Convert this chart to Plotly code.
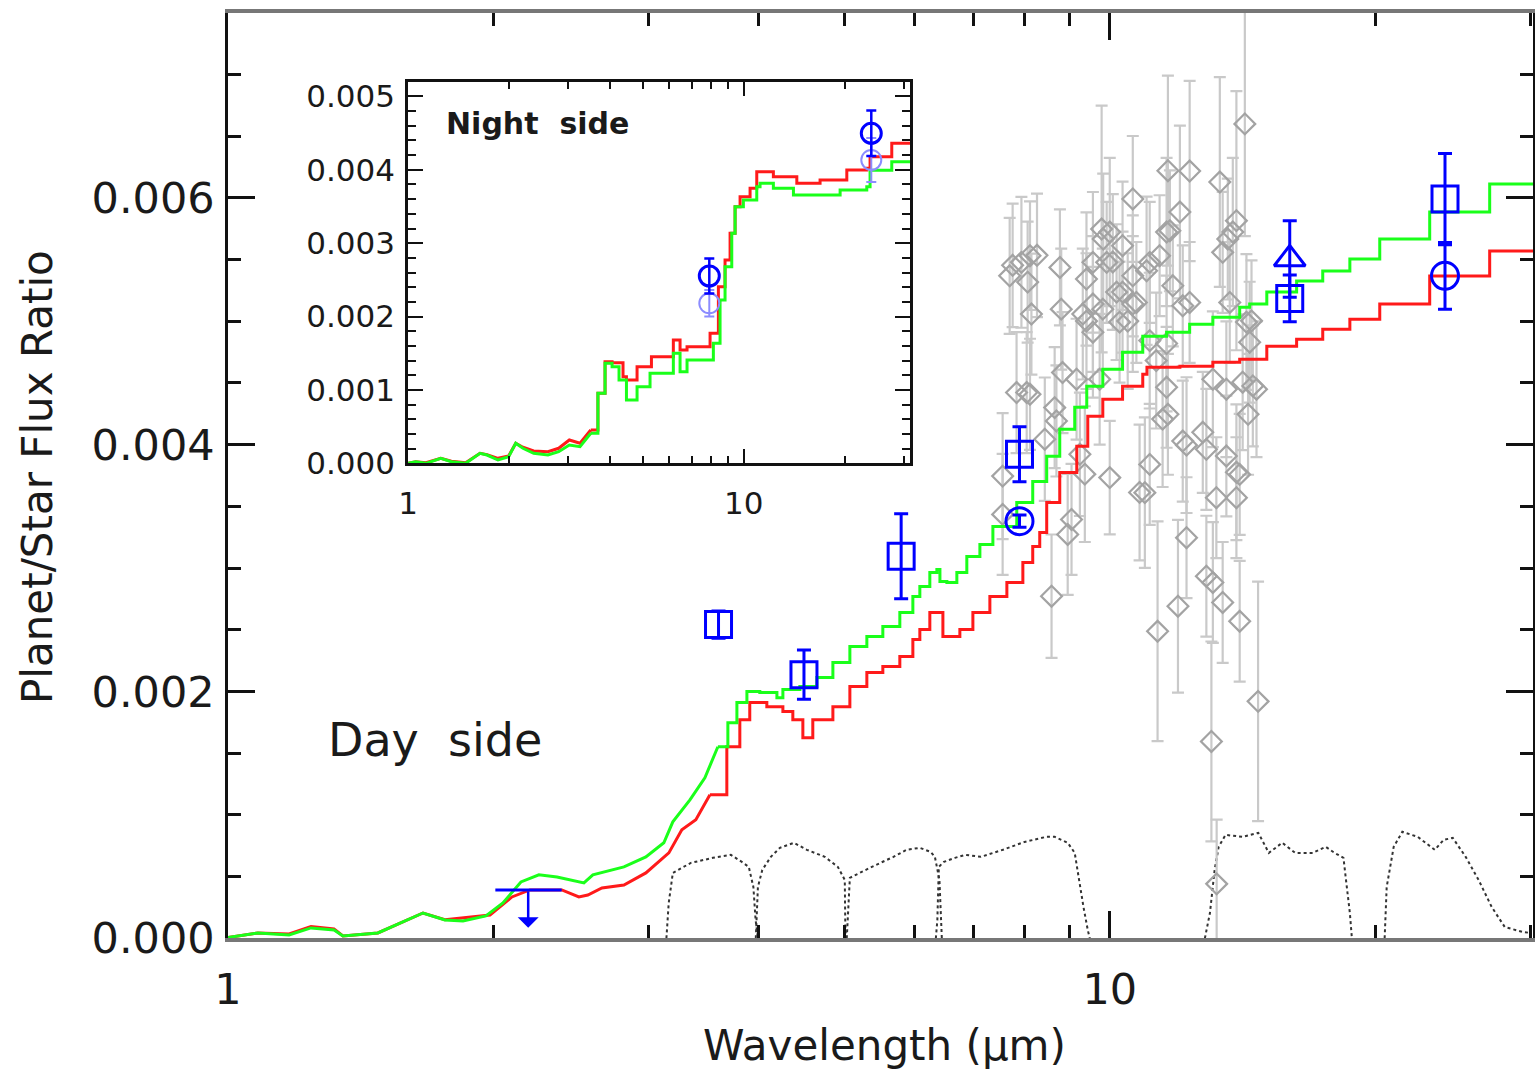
import math
import numpy as np
import plotly.graph_objects as go

# ---------------- DATA (flux ratios in units of 1e-3) ----------------
# Day side model spectra (main panel)
green_day_wl = [1.000,1.081,1.173,1.242,1.319,1.350,1.479,1.571,1.664,1.762,1.847,1.961,2.050,2.149,2.252,2.361,2.442,2.533,2.593,2.812,2.978,3.121,3.195,3.341,3.474,3.594,
                3.689,3.777,3.877,4.010,4.193,4.259,4.452,4.654,4.853,5.073,5.303,5.529,5.780,5.980,6.090,6.251,6.367,6.418,6.536,6.708,6.885,7.124,7.370,7.844,8.178,8.482,8.776,9.126,9.417,9.820,
                10.34,10.90,11.60,12.32,13.09,14.04,14.41,15.07,16.29,17.44,18.72,20.24,23.06,26.97,30.3]
green_day_e3 = [0.007,0.043,0.027,0.084,0.067,0.019,0.043,0.124,0.205,0.148,0.140,0.181,0.286,0.457,0.514,0.497,0.473,0.449,0.514,0.579,0.660,0.774,0.944,1.122,1.301,1.552,
                1.747,1.910,1.999,1.991,1.950,2.015,2.040,2.113,2.234,2.364,2.445,2.526,2.640,2.770,2.851,2.964,2.989,2.891,2.883,2.964,3.094,3.191,3.337,3.532,3.702,3.905,4.124,4.303,4.473,4.611,
                4.749,4.879,4.911,4.976,5.033,5.114,5.139,5.236,5.326,5.407,5.504,5.666,5.885,6.112,6.112]
red_day_wl = [1.000,1.081,1.173,1.242,1.319,1.350,1.479,1.571,1.664,1.762,1.871,1.982,2.099,2.200,2.391,2.500,2.559,2.655,2.812,2.978,3.162,3.271,3.393,3.520,
              3.679,3.806,3.906,4.084,4.259,4.371,4.487,4.605,4.853,5.073,5.303,5.529,5.780,5.980,6.090,6.251,6.367,6.468,6.761,6.995,7.312,7.644,7.970,8.178,8.329,8.482,
              8.776,9.175,9.442,9.820,10.34,10.90,11.02,12.01,13.09,14.04,15.07,16.29,17.44,18.72,20.24,23.06,26.97,30.3]
red_day_e3 = [0.007,0.043,0.035,0.095,0.075,0.019,0.043,0.124,0.205,0.150,0.173,0.189,0.335,0.392,0.392,0.335,0.351,0.408,0.432,0.530,0.692,0.879,0.960,1.163,
              1.552,1.771,1.910,1.877,1.837,1.771,1.625,1.771,1.877,2.040,2.153,2.202,2.283,2.421,2.502,2.640,2.640,2.445,2.502,2.640,2.770,2.883,3.045,3.175,3.289,3.532,
              3.775,3.986,4.230,4.368,4.473,4.570,4.627,4.635,4.668,4.692,4.798,4.855,4.936,5.017,5.139,5.366,5.569,5.569]

# Night side model spectra (inset)
green_night_wl = [1.0,1.054,1.131,1.252,1.347,1.485,1.639,1.719,1.854,1.994,2.094,2.200,2.368,2.611,2.811,3.024,3.254,3.503,3.680,3.864,
                  4.055,4.253,4.475,4.813,5.261,6.036,6.173,6.464,6.781,7.762,8.123,8.505,8.801,9.216,9.428,9.980,10.94,11.19,12.26,14.07,
                  16.89,19.38,23.27,23.80,27.31,27.62,31.3]
green_night_e3 = [0.002,0.023,0.001,0.069,0.023,0.001,0.138,0.114,0.046,0.091,0.274,0.206,0.138,0.114,0.159,0.251,0.228,0.410,0.955,1.364,
                  1.317,1.136,0.864,1.045,1.228,1.228,1.500,1.249,1.409,1.409,1.636,2.226,2.680,3.135,3.497,3.589,3.770,3.816,3.748,3.657,
                  3.657,3.725,3.770,3.995,3.995,4.110,4.110]
red_night_wl = [1.0,1.054,1.131,1.252,1.347,1.485,1.639,1.719,1.854,1.994,2.094,2.200,2.368,2.611,2.811,3.024,3.254,3.503,3.680,3.864,
                4.055,4.371,4.475,4.813,5.312,5.861,6.173,6.464,6.781,7.585,7.942,8.408,8.801,9.110,9.428,9.757,10.45,10.94,12.26,14.40,
                16.89,20.29,23.27,23.80,26.99,27.62,31.3]
red_night_e3 = [0.002,0.023,0.010,0.069,0.030,0.010,0.138,0.120,0.069,0.100,0.274,0.220,0.170,0.160,0.206,0.319,0.274,0.455,0.955,1.386,
                1.372,1.181,1.136,1.317,1.454,1.454,1.681,1.545,1.590,1.590,1.772,2.407,2.771,3.135,3.497,3.634,3.748,3.974,3.906,3.816,
                3.861,3.997,4.020,4.178,4.178,4.361,4.361]

# Spitzer filter transmission curves (scaled, dotted)
filt1_wl = [3.142,3.161,3.195,3.349,3.548,3.718,3.826,3.896,3.943,3.966,3.990]
filt1_e3 = [0,0.286,0.530,0.611,0.652,0.676,0.619,0.579,0.416,0.148,0]
filt2_wl = [3.968,3.990,4.036,4.127,4.226,4.383,4.534,4.752,4.916,5.006,5.012,5.02]
filt2_e3 = [0,0.416,0.554,0.660,0.733,0.774,0.717,0.660,0.579,0.473,0.148,0]
filt3_wl = [5.032,5.045,5.073,5.373,5.684,5.884,6.090,6.265,6.334,6.410,6.445,6.45]
filt3_e3 = [0,0.148,0.490,0.579,0.660,0.717,0.733,0.700,0.660,0.473,0.148,0]
filt4_wl = [6.350,6.375,6.400,6.484,6.674,6.864,7.142,7.565,8.005,8.473,8.661,8.961,9.126,9.223,9.337,9.442,9.491]
filt4_e3 = [0,0.148,0.579,0.619,0.652,0.676,0.660,0.717,0.781,0.822,0.822,0.774,0.692,0.473,0.254,0.067,0]
filt5_wl = [12.82,12.99,13.15,13.29,13.53,14.15,14.74,15.15,15.69,16.23,16.99,17.58,17.99,18.41,18.52,18.72,18.82]
filt5_e3 = [0,0.205,0.554,0.741,0.838,0.822,0.854,0.692,0.774,0.692,0.692,0.741,0.692,0.652,0.490,0.205,0]
filt6_wl = [20.50,20.61,20.99,21.47,22.35,23.37,23.92,24.49,25.33,26.20,27.11,28.05,29.40,30.05]
filt6_e3 = [0,0.416,0.741,0.863,0.822,0.717,0.798,0.814,0.660,0.473,0.254,0.092,0.051,0.043]

# IRS spectrum points (gray diamonds)
irs_wl = [7.56,7.56,7.70,7.84,7.94,8.05,8.07,8.12,8.12,8.15,
          8.59,8.66,8.70,8.78,8.81,8.84,8.96,9.05,9.17,9.32,
          9.37,9.41,9.57,9.57,9.74,9.79,9.83,9.82,9.92,10.0,
          10.26,10.34,10.34,10.62,10.62,10.72,10.96,11.10,11.10,11.33,
          11.39,11.60,11.64,11.64,11.70,11.79,11.95,12.01,12.10,12.10,
          12.22,12.32,12.32,12.75,12.87,12.87,13.04,13.09,13.21,13.22,
          13.33,13.43,13.43,13.56,13.61,13.68,13.92,13.92,14.04,14.04,
          14.23,14.35,14.41,14.48,14.53,14.73,
          10.0,10.08,10.18,11.01,10.62,10.48,9.57,9.41,11.60,11.10,
          11.60,11.29,13.79,14.29,13.09,13.56,14.15,14.67,12.22,11.48,
          13.92,10.81,7.76,8.27,9.25,8.44]
irs_e3 = [3.745,3.435,5.368,4.422,5.477,4.422,5.317,5.531,4.408,5.058,
          2.772,4.300,4.192,5.436,5.098,4.584,3.272,3.394,4.530,5.058,
          3.761,5.342,5.477,4.911,4.530,5.747,5.666,5.098,5.477,3.733,
          4.993,5.612,5.236,5.991,5.368,5.152,3.611,5.477,3.840,2.488,
          5.531,4.465,6.220,4.246,5.733,5.287,2.691,5.885,5.125,4.029,
          3.246,6.217,5.152,4.100,3.962,2.934,1.595,2.883,3.570,0.441,
          6.128,5.558,2.721,3.908,5.666,5.152,5.815,3.570,3.759,2.569,
          6.599,4.246,4.830,5.003,4.476,1.920,
          5.723,5.480,5.236,5.409,5.139,5.001,5.139,5.001,5.723,4.843,
          4.819,4.681,5.723,4.993,4.530,4.449,4.506,4.449,3.996,4.207,
          3.776,3.613,5.453,5.534,3.922,4.044]
irs_err_e3 = [0.51,0.49,0.47,0.49,0.53,0.49,0.49,0.44,0.45,0.49,
              0.50,0.49,0.45,0.47,0.49,0.49,0.49,0.45,0.49,0.53,
              0.55,0.54,0.57,0.53,0.53,1.0,0.53,0.49,0.49,0.46,
              0.49,0.52,0.49,0.51,0.49,0.49,0.61,0.49,0.49,0.89,
              0.49,0.49,0.77,0.49,0.49,0.49,0.70,0.70,0.49,0.49,
              0.49,0.73,0.49,0.49,0.49,0.49,0.81,0.49,0.49,0.52,
              0.85,0.49,0.49,0.49,0.49,0.49,1.05,0.49,0.49,0.49,
              0.91,0.49,0.49,0.49,0.49,0.97,
              0.60,0.55,0.55,0.60,0.55,0.55,0.55,0.55,0.60,0.55,
              0.55,0.55,0.60,0.55,0.55,0.55,0.55,0.55,0.55,0.55,
              0.55,0.55,0.50,0.50,0.50,0.50]

# Day side photometry (blue)
sq_wl = [3.6, 4.5, 5.8, 7.9, 16.0, 24.0]
sq_e3 = [2.542, 2.136, 3.096, 3.922, 5.185, 5.990]
sq_err_e3 = [0.11, 0.20, 0.345, 0.223, 0.19, 0.37]
circ_wl = [7.9, 24.0]
circ_e3 = [3.380, 5.368]
circ_err_e3 = [0.05, 0.27]
tri_wl = [16.0]
tri_e3 = [5.504]
tri_err_e3 = [0.31]
ulim_wl = 2.19
ulim_e3 = 0.392
ulim_lo_wl = 2.01
ulim_hi_wl = 2.39
ulim_arrow_tip_e3 = 0.085

# Night side photometry (inset)
night_wl = [7.9, 24.0]
night_e3 = [2.553, 4.497]
night_err_e3 = [0.24, 0.31]
night_alt_e3 = [2.181, 4.134]
night_alt_err_e3 = [0.18, 0.30]

# ticks
main_ytick_vals = [0, 0.002, 0.004, 0.006]
main_ytick_text = ["0.000", "0.002", "0.004", "0.006"]
inset_ytick_vals = [0, 0.001, 0.002, 0.003, 0.004, 0.005]
inset_ytick_text = ["0.000", "0.001", "0.002", "0.003", "0.004", "0.005"]
xtick_vals = [1, 10]
xtick_text = ["1", "10"]
xminor_vals = [2, 3, 4, 5, 6, 7, 8, 9, 20, 30]

# ---------------- FIGURE ----------------
E = 1e-3
FONT = "DejaVu Sans"
TXT = "#1a1a1a"
BLUE = "#0000ff"
RED = "#ff1a1a"
GREEN = "#1aff1a"

fig = go.Figure()

def split_model(wl, fr, cut=3.5):
    wl = np.asarray(wl, float); fr = np.asarray(fr, float) * E
    k = int(np.argmax(wl > cut))
    return (wl[:k + 1], fr[:k + 1]), (wl[k:], fr[k:])

# filters
fw, fr = [], []
for w, r in [(filt1_wl, filt1_e3), (filt2_wl, filt2_e3), (filt3_wl, filt3_e3),
             (filt4_wl, filt4_e3), (filt5_wl, filt5_e3), (filt6_wl, filt6_e3)]:
    fw += list(w) + [None]
    fr += [v * E for v in r] + [None]
fig.add_trace(go.Scatter(x=fw, y=fr, mode="lines", line=dict(color="#333333", width=2, dash="dot"),
                         xaxis="x", yaxis="y", hoverinfo="skip"))

# IRS gray diamonds
fig.add_trace(go.Scatter(x=irs_wl, y=np.array(irs_e3) * E, mode="markers",
                         marker=dict(symbol="diamond-open", size=16, color="#a3a3a3", line=dict(width=2.2, color="#a3a3a3")),
                         error_y=dict(type="data", array=np.array(irs_err_e3) * E, color="#c9c9c9", thickness=2.2, width=6),
                         xaxis="x", yaxis="y"))

# day side models
for wl, frr, col in [(red_day_wl, red_day_e3, RED), (green_day_wl, green_day_e3, GREEN)]:
    (lw, lf), (hw, hf) = split_model(wl, frr)
    fig.add_trace(go.Scatter(x=lw, y=lf, mode="lines", line=dict(color=col, width=3), xaxis="x", yaxis="y"))
    fig.add_trace(go.Scatter(x=hw, y=hf, mode="lines", line=dict(color=col, width=3, shape="hv"), xaxis="x", yaxis="y"))

# day side photometry
fig.add_trace(go.Scatter(x=sq_wl, y=np.array(sq_e3) * E, mode="markers",
                         marker=dict(symbol="square-open", size=26, color=BLUE, line=dict(width=3, color=BLUE)),
                         error_y=dict(type="data", array=np.array(sq_err_e3) * E, color=BLUE, thickness=3, width=7),
                         xaxis="x", yaxis="y"))
fig.add_trace(go.Scatter(x=circ_wl, y=np.array(circ_e3) * E, mode="markers",
                         marker=dict(symbol="circle-open", size=27, color=BLUE, line=dict(width=3, color=BLUE)),
                         error_y=dict(type="data", array=np.array(circ_err_e3) * E, color=BLUE, thickness=3, width=7),
                         xaxis="x", yaxis="y"))
fig.add_trace(go.Scatter(x=tri_wl, y=np.array(tri_e3) * E, mode="markers",
                         marker=dict(symbol="triangle-up-open", size=27, color=BLUE, line=dict(width=3, color=BLUE)),
                         error_y=dict(type="data", array=np.array(tri_err_e3) * E, color=BLUE, thickness=3, width=7),
                         xaxis="x", yaxis="y"))
# upper limit bar
fig.add_trace(go.Scatter(x=[ulim_wl], y=[ulim_e3 * E], mode="markers", marker=dict(size=1, color=BLUE),
                         error_x=dict(type="data", symmetric=False, array=[ulim_hi_wl - ulim_wl],
                                      arrayminus=[ulim_wl - ulim_lo_wl], color=BLUE, thickness=3, width=0),
                         xaxis="x", yaxis="y"))

# night side models
for wl, frr, col in [(red_night_wl, red_night_e3, RED), (green_night_wl, green_night_e3, GREEN)]:
    (lw, lf), (hw, hf) = split_model(wl, frr)
    fig.add_trace(go.Scatter(x=lw, y=lf, mode="lines", line=dict(color=col, width=3), xaxis="x2", yaxis="y2"))
    fig.add_trace(go.Scatter(x=hw, y=hf, mode="lines", line=dict(color=col, width=3, shape="hv"), xaxis="x2", yaxis="y2"))

fig.add_trace(go.Scatter(x=night_wl, y=np.array(night_alt_e3) * E, mode="markers",
                         marker=dict(symbol="circle-open", size=20, color="#8c8cff", line=dict(width=2, color="#8c8cff")),
                         error_y=dict(type="data", array=np.array(night_alt_err_e3) * E, color="#8c8cff", thickness=2, width=5),
                         xaxis="x2", yaxis="y2"))
fig.add_trace(go.Scatter(x=night_wl, y=np.array(night_e3) * E, mode="markers",
                         marker=dict(symbol="circle-open", size=20, color=BLUE, line=dict(width=3, color=BLUE)),
                         error_y=dict(type="data", array=np.array(night_err_e3) * E, color=BLUE, thickness=2.5, width=5),
                         xaxis="x2", yaxis="y2"))

W, H = 1535, 1072
def px(xp):
    return xp / W
def py(yp):
    return 1 - yp / H

common_ax = dict(showgrid=False, zeroline=False, showline=True, mirror="ticks", ticks="inside",
                 tickcolor="#111111", automargin=False)

fig.update_layout(
    width=W, height=H, margin=dict(l=0, r=0, t=0, b=0),
    paper_bgcolor="white", plot_bgcolor="white", showlegend=False,
    font=dict(family=FONT, color=TXT),
    xaxis=dict(domain=[px(228), px(1533)], type="log", range=[0, math.log10(30.2)], anchor="y",
               tickmode="array", tickvals=xtick_vals, ticktext=xtick_text,
               ticklen=27, tickwidth=2.5, linecolor="#777777", linewidth=4,
               tickfont=dict(size=43, family=FONT, color=TXT), ticklabelstandoff=10,
               minor=dict(tickmode="array", tickvals=xminor_vals, ticks="inside", ticklen=13, tickwidth=2.5, tickcolor="#111111"),
               **common_ax),
    yaxis=dict(domain=[py(938.3), py(12.7)], range=[0, 0.0075], anchor="x",
               tickmode="array", tickvals=main_ytick_vals, ticktext=main_ytick_text,
               ticklen=27, tickwidth=2.5, linecolor="#111111", linewidth=2.5,
               tickfont=dict(size=43, family=FONT, color=TXT), ticklabelstandoff=2,
               minor=dict(tickmode="linear", tick0=0, dtick=0.0005, ticks="inside", ticklen=13, tickwidth=2.5, tickcolor="#111111"),
               **common_ax),
    xaxis2=dict(domain=[px(408), px(910)], type="log", range=[0, math.log10(31.3)], anchor="y2",
                tickmode="array", tickvals=xtick_vals, ticktext=xtick_text,
                ticklen=15, tickwidth=2, linecolor="#111111", linewidth=2.5,
                tickfont=dict(size=31, family=FONT, color=TXT), ticklabelstandoff=11,
                minor=dict(tickmode="array", tickvals=xminor_vals, ticks="inside", ticklen=8, tickwidth=2, tickcolor="#111111"),
                **common_ax),
    yaxis2=dict(domain=[py(463.4), py(81.7)], range=[0, 0.0052], anchor="x2",
                tickmode="array", tickvals=inset_ytick_vals, ticktext=inset_ytick_text,
                ticklen=15, tickwidth=2, linecolor="#111111", linewidth=2.5,
                tickfont=dict(size=31, family=FONT, color=TXT), ticklabelstandoff=4,
                minor=dict(tickmode="linear", tick0=0, dtick=0.0002, ticks="inside", ticklen=8, tickwidth=2, tickcolor="#111111"),
                **common_ax),
)

annotations = [
    dict(text="Wavelength (\u03bcm)", x=px(884), y=py(1045), xref="paper", yref="paper",
         showarrow=False, xanchor="center", yanchor="middle", font=dict(size=42, family=FONT, color=TXT)),
    dict(text="Planet/Star Flux Ratio", x=px(37), y=py(477), xref="paper", yref="paper", textangle=-90,
         showarrow=False, xanchor="center", yanchor="middle", font=dict(size=42, family=FONT, color=TXT)),
    dict(text="Day\u00a0 side", x=px(435), y=py(740), xref="paper", yref="paper",
         showarrow=False, xanchor="center", yanchor="middle", font=dict(size=46, family=FONT, color=TXT)),
    dict(text="<b>Night\u00a0 side</b>", x=px(537), y=py(123), xref="paper", yref="paper",
         showarrow=False, xanchor="center", yanchor="middle", font=dict(size=30, family=FONT, color=TXT)),
    dict(text="", x=math.log10(ulim_wl), y=ulim_arrow_tip_e3 * E, xref="x", yref="y",
         ax=math.log10(ulim_wl), ay=ulim_e3 * E, axref="x", ayref="y",
         showarrow=True, arrowhead=1, arrowsize=1.4, arrowwidth=2.5, arrowcolor=BLUE),
]
fig.update_layout(annotations=annotations)

fig.write_html("out.html")
